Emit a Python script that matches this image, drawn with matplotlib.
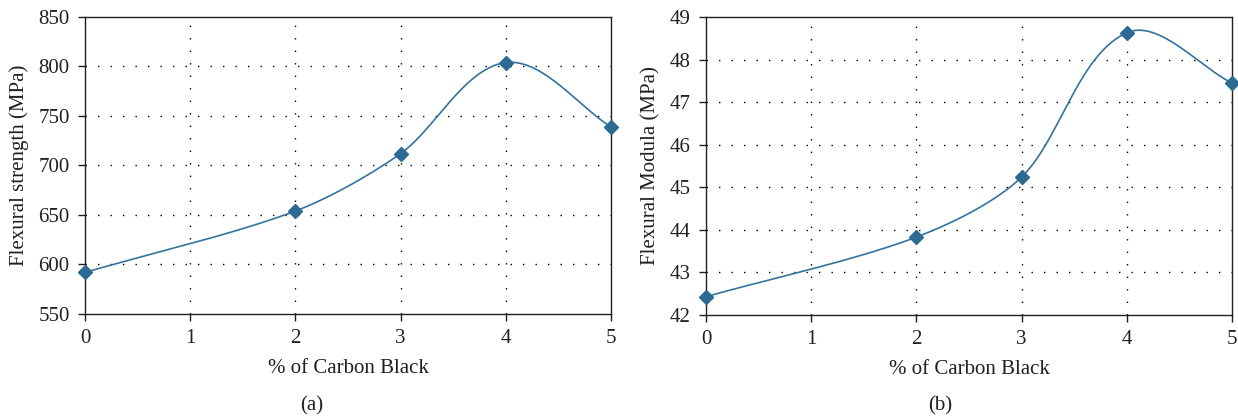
import numpy as np
import matplotlib
matplotlib.use("Agg")
import matplotlib.pyplot as plt

plt.rcParams["font.family"] = ["Liberation Serif", "DejaVu Serif"]

carbon_pct = [0, 2, 3, 4, 5]
flex_strength = [592, 654, 712, 804, 739]
flex_modulus = [42.43, 43.83, 45.24, 48.63, 47.45]

LINE = "#33739f"
MARK = "#2d6a93"
INK = "#231f20"


def smooth_curve(x, y, sx, sy, k=0.3, n=60):
    """Bezier smoothing through the points: tangent direction from the
    neighbours, handle length from the segment itself. Done in
    display-proportional units so the bends look like a spreadsheet chart."""
    px = np.asarray(x, float) * sx
    py = np.asarray(y, float) * sy
    pts = np.column_stack([px, py])
    m = len(pts)
    dirs = []
    for i in range(m):
        a = pts[max(i - 1, 0)]
        b = pts[min(i + 1, m - 1)]
        d = b - a
        dirs.append(d / np.hypot(*d))
    out = []
    for i in range(m - 1):
        p1, p2 = pts[i], pts[i + 1]
        L = np.hypot(*(p2 - p1))
        c1 = p1 + dirs[i] * L * k
        c2 = p2 - dirs[i + 1] * L * k
        t = np.linspace(0, 1, n)[:, None]
        seg = ((1 - t) ** 3) * p1 + 3 * ((1 - t) ** 2) * t * c1 \
            + 3 * (1 - t) * t ** 2 * c2 + t ** 3 * p2
        out.append(seg if i == 0 else seg[1:])
    out = np.vstack(out)
    return out[:, 0] / sx, out[:, 1] / sy


def draw_panel(ax, y, ylim, ystep, ylabel):
    ax.set_xlim(0, 5)
    ax.set_ylim(*ylim)
    ax.set_xticks(range(6))
    ax.set_yticks(np.arange(ylim[0], ylim[1] + ystep / 2, ystep))

    # scale factors: roughly pixels per data unit of the plot box
    w_px, h_px = 526.0, 297.0
    sx = w_px / 5.0
    sy = h_px / (ylim[1] - ylim[0])
    cx, cy = smooth_curve(carbon_pct, y, sx, sy)
    ax.plot(cx, cy, color=LINE, lw=1.2, zorder=3, clip_on=False)
    ax.plot(carbon_pct, y, ls="none", marker="D", ms=7.2, color=MARK,
            zorder=4, clip_on=False)

    for v in ax.get_yticks()[1:-1]:
        ax.axhline(v, color="black", lw=1, ls=(0, (1, 8)), zorder=1)
    for v in range(1, 5):
        ax.axvline(v, color="black", lw=1, ls=(0, (1, 8)), zorder=1)

    for s in ax.spines.values():
        s.set_color(INK)
        s.set_linewidth(1.0)
    ax.tick_params(direction="out", length=5, width=1, labelsize=15,
                   colors=INK, pad=6)
    ax.set_xlabel("% of Carbon Black", fontsize=15, labelpad=8, color=INK)
    ax.set_ylabel(ylabel, fontsize=15, labelpad=7, color=INK)


fig = plt.figure(figsize=(12.38, 4.17), dpi=100)
ax1 = fig.add_axes([85 / 1238, 1 - 314 / 417, 526 / 1238, 297 / 417])
ax2 = fig.add_axes([706 / 1238, 1 - 315 / 417, 526 / 1238, 298 / 417])

draw_panel(ax1, flex_strength, (550, 850), 50, "Flexural strength (MPa)")
draw_panel(ax2, flex_modulus, (42, 49), 1, "Flexural Modula (MPa)")

fig.text(312 / 1238, 1 - 406 / 417, "(a)", ha="center", va="center",
         fontsize=15, color=INK)
fig.text(940 / 1238, 1 - 406 / 417, "(b)", ha="center", va="center",
         fontsize=15, color=INK)

fig.savefig("out.png", dpi=100, facecolor="white")
